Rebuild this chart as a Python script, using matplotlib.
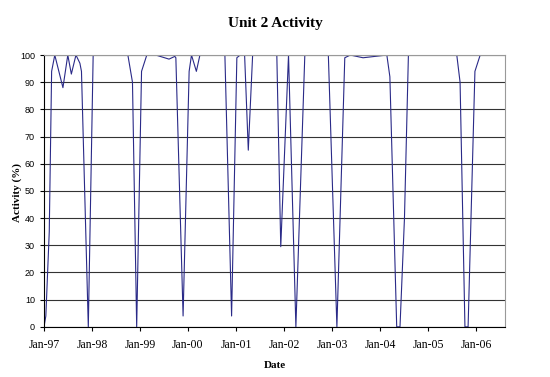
import matplotlib
matplotlib.use('Agg')
import matplotlib.pyplot as plt
import matplotlib.dates as mdates
import pandas as pd

# Activity readings (%)
dates = [
    '1997-01-01', '1997-01-15', '1997-02-10', '1997-02-28', '1997-03-24',
    '1997-05-25', '1997-07-01', '1997-07-28', '1997-09-01', '1997-10-01',
    '1997-10-13', '1997-12-04', '1998-01-10', '1998-10-01', '1998-11-05',
    '1998-12-07', '1999-01-13', '1999-02-22', '1999-05-01', '1999-08-10',
    '1999-09-23', '1999-10-01', '1999-11-25', '2000-01-10', '2000-01-28',
    '2000-03-05', '2000-04-01', '2000-10-08', '2000-11-28', '2001-01-07',
    '2001-02-01', '2001-03-07', '2001-04-04', '2001-05-07', '2001-11-07',
    '2001-12-07', '2002-02-04', '2002-04-01', '2002-06-08', '2002-12-04',
    '2003-02-07', '2003-04-08', '2003-05-20', '2003-08-25', '2004-02-22',
    '2004-03-16', '2004-05-07', '2004-06-01', '2004-07-05', '2004-08-04',
    '2005-08-07', '2005-09-01', '2005-10-08', '2005-11-01', '2005-12-23',
    '2006-02-01', '2006-08-08',
]
activity = [
    0, 4, 35, 94, 100,
    88, 100, 93, 100, 97,
    94, 0, 100, 100, 90,
    0, 94, 100, 100, 98.5,
    99.5, 99, 4, 94, 100,
    94, 100, 100, 4, 99,
    100, 100, 65, 100, 100,
    29.5, 100, 0, 100, 100,
    0, 99, 100, 99, 100,
    92, 0, 0, 40, 100,
    100, 90, 0, 0, 94,
    100, 100,
]
tick_dates = ['1997-01-01', '1998-01-01', '1999-01-01', '2000-01-01', '2001-01-01',
              '2002-01-01', '2003-01-01', '2004-01-01', '2005-01-01', '2006-01-01']

x = pd.to_datetime(dates)
ticks = pd.to_datetime(tick_dates)

fig = plt.figure(figsize=(5.5, 3.77), dpi=100)
ax = fig.add_axes([0.08, 0.133, 0.838, 0.721])

ax.plot(x, activity, color='#2a2a88', linewidth=0.8)

ax.set_ylim(0, 100)
ax.set_xlim(x[0], x[-1])
ax.set_yticks(range(0, 101, 10))
ax.yaxis.grid(True, color='#333333', linewidth=0.8)
ax.set_axisbelow(True)

ax.set_xticks(ticks)
ax.xaxis.set_major_formatter(mdates.DateFormatter('%b-%y'))
ax.tick_params(axis='both', direction='out', length=3, width=0.8, color='black')
ax.tick_params(axis='x', pad=6)
for lbl in ax.get_xticklabels():
    lbl.set_fontfamily('Liberation Serif')
    lbl.set_fontsize(8.5)
for lbl in ax.get_yticklabels():
    lbl.set_fontfamily('Liberation Sans')
    lbl.set_fontsize(6.5)

ax.spines['left'].set_color('black')
ax.spines['bottom'].set_color('black')
ax.spines['top'].set_color('#999999')
ax.spines['right'].set_color('#999999')
for s in ax.spines.values():
    s.set_linewidth(0.8)

fig.text(0.5, 0.938, 'Unit 2 Activity', ha='center', va='center',
         fontfamily='Liberation Serif', fontweight='bold', fontsize=11)
fig.text(0.5, 0.03, 'Date', ha='center', va='center',
         fontfamily='Liberation Serif', fontweight='bold', fontsize=8)
fig.text(0.032, 0.49, 'Activity (%)', ha='center', va='center', rotation=90,
         fontfamily='Liberation Serif', fontweight='bold', fontsize=8)

fig.savefig('out.png', dpi=100)
